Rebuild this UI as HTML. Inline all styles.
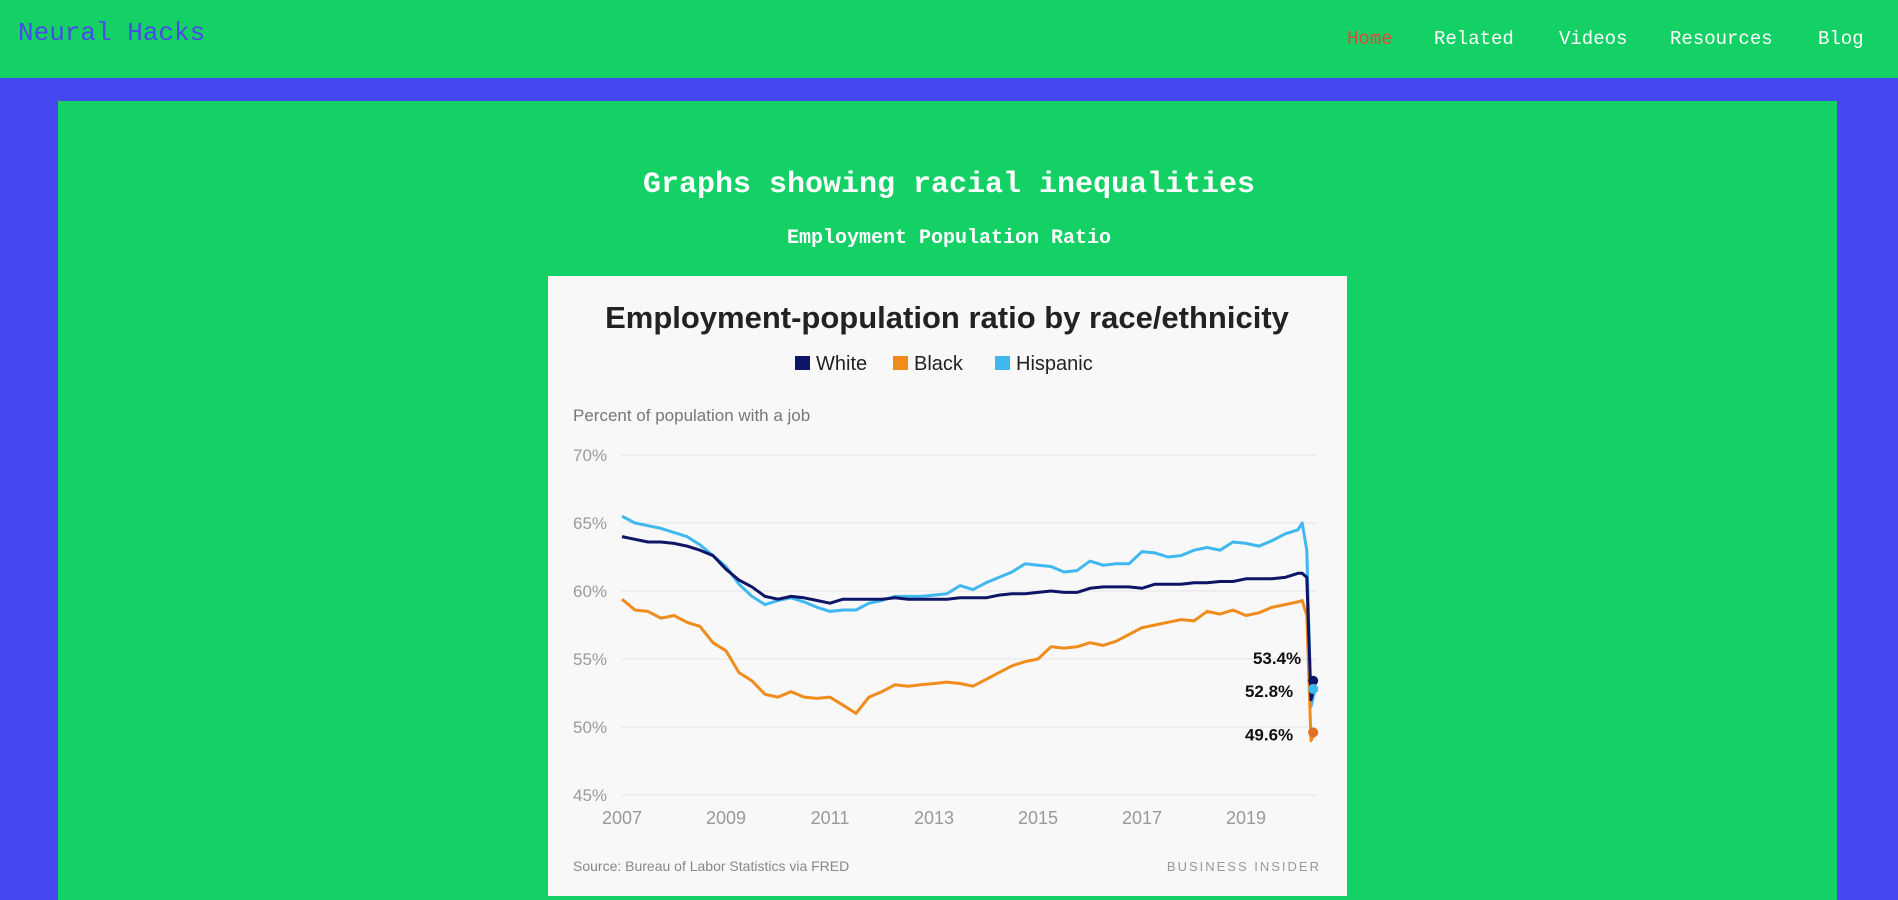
<!DOCTYPE html>
<html><head><meta charset="utf-8"><style>
body{margin:0;width:1898px;height:900px;overflow:hidden;background:#4448ee;font-family:"Liberation Mono",monospace}
#hdr{position:absolute;left:0;top:0;width:1898px;height:78px;background:#14d166}
#logo{position:absolute;left:18px;top:18px;font-size:26px;color:#4a4ae8}
.nav{position:absolute;top:28px;font-size:19px;color:#fff}
#box{position:absolute;left:58px;top:101px;width:1779px;height:799px;background:#14d166}
#t1{position:absolute;left:0;width:1898px;top:168px;text-align:center;font-size:30px;font-weight:bold;color:#fff}
#t2{position:absolute;left:0;width:1898px;top:227px;text-align:center;font-size:20px;font-weight:bold;color:#fff}
svg{position:absolute;left:0;top:0}
</style></head><body>
<div id="hdr"></div>
<div id="logo">Neural Hacks</div>
<div class="nav" style="left:1347px;color:#e8453c">Home</div>
<div class="nav" style="left:1434px">Related</div>
<div class="nav" style="left:1559px">Videos</div>
<div class="nav" style="left:1670px">Resources</div>
<div class="nav" style="left:1818px">Blog</div>
<div id="box"></div>
<div id="t1">Graphs showing racial inequalities</div>
<div id="t2">Employment Population Ratio</div>
<svg id="chart" width="1898" height="900" font-family="Liberation Sans, sans-serif"></svg>
<script>
const dates=[2007,2007.25,2007.5,2007.75,2008,2008.25,2008.5,2008.75,2009,2009.25,2009.5,2009.75,2010,2010.25,2010.5,2010.75,2011,2011.25,2011.5,2011.75,2012,2012.25,2012.5,2012.75,2013,2013.25,2013.5,2013.75,2014,2014.25,2014.5,2014.75,2015,2015.25,2015.5,2015.75,2016,2016.25,2016.5,2016.75,2017,2017.25,2017.5,2017.75,2018,2018.25,2018.5,2018.75,2019,2019.25,2019.5,2019.75,2020,2020.08,2020.17,2020.25,2020.33];
const white=[64.0,63.8,63.6,63.6,63.5,63.3,63.0,62.6,61.6,60.8,60.3,59.6,59.4,59.6,59.5,59.3,59.1,59.4,59.4,59.4,59.4,59.5,59.4,59.4,59.4,59.4,59.5,59.5,59.5,59.7,59.8,59.8,59.9,60.0,59.9,59.9,60.2,60.3,60.3,60.3,60.2,60.5,60.5,60.5,60.6,60.6,60.7,60.7,60.9,60.9,60.9,61.0,61.3,61.3,61.0,52.0,53.4];
const hispanic=[65.5,65.0,64.8,64.6,64.3,64.0,63.4,62.6,61.8,60.5,59.6,59.0,59.3,59.5,59.2,58.8,58.5,58.6,58.6,59.1,59.3,59.6,59.6,59.6,59.7,59.8,60.4,60.1,60.6,61.0,61.4,62.0,61.9,61.8,61.4,61.5,62.2,61.9,62.0,62.0,62.9,62.8,62.5,62.6,63.0,63.2,63.0,63.6,63.5,63.3,63.7,64.2,64.5,65.0,63.0,51.5,52.8];
const black=[59.4,58.6,58.5,58.0,58.2,57.7,57.4,56.2,55.6,54.0,53.4,52.4,52.2,52.6,52.2,52.1,52.2,51.6,51.0,52.2,52.6,53.1,53.0,53.1,53.2,53.3,53.2,53.0,53.5,54.0,54.5,54.8,55.0,55.9,55.8,55.9,56.2,56.0,56.3,56.8,57.3,57.5,57.7,57.9,57.8,58.5,58.3,58.6,58.2,58.4,58.8,59.0,59.2,59.3,58.2,49.0,49.6];
const yTicks=[70,65,60,55,50,45];
const xTicks=[2007,2009,2011,2013,2015,2017,2019];
const endLabels=["53.4%","52.8%","49.6%"];
const NS="http://www.w3.org/2000/svg",svg=document.getElementById('chart');
function x(t){return 622+(t-2007)*52;}
function y(v){return 455+(70-v)*13.6;}
function mk(tag,attrs,txt){const e=document.createElementNS(NS,tag);for(const k in attrs)e.setAttribute(k,attrs[k]);if(txt!==undefined)e.textContent=txt;svg.appendChild(e);return e;}
let e;
e=mk('rect',{x:548,y:276,width:799,height:620,fill:'#f8f8f8'});


e=mk('text',{x:947,y:328,'text-anchor':'middle','font-size':31,'font-weight':'bold',fill:'#222'},'Employment-population ratio by race/ethnicity');


const leg=[['White','#0e1566',795],['Black','#ef8c1c',893],['Hispanic','#3fb8ef',995]];
leg.forEach(l=>{
 e=mk('rect',{x:l[2],y:356,width:15,height:14,fill:l[1]});
 
 
 e=mk('text',{x:l[2]+21,y:370,'font-size':20,fill:'#222'},l[0]);
 
 
});
e=mk('text',{x:573,y:421,'font-size':17,fill:'#777'},'Percent of population with a job');


yTicks.forEach(v=>{
 e=mk('line',{x1:621,x2:1316,y1:y(v),y2:y(v),stroke:'#e4e4e4','stroke-width':1});
 
 
 e=mk('text',{x:573,y:y(v)+6,'font-size':17,fill:'#999'},v+'%');
 
 
});
xTicks.forEach(t=>{
 e=mk('text',{x:x(t),y:824,'font-size':18,fill:'#999','text-anchor':'middle'},String(t));
 
 
});
function line(d,c,n){
 const p=d.map((v,i)=>(i?'L':'M')+x(dates[i]).toFixed(1)+','+y(v).toFixed(1)).join('');
 e=mk('path',{d:p,fill:'none',stroke:c,'stroke-width':3,'stroke-linejoin':'round'});
 
 
}
line(hispanic,'#3fb8ef','hispanic-line');
line(black,'#ef8c1c','black-line');
line(white,'#0e1566','white-line');
const last=dates.length-1;
[[white,'#0e1566',-17,0],[hispanic,'#3fb8ef',8,-22],[black,'#e07020',8,-22]].forEach((s,i)=>{
 const v=s[0][last];
 e=mk('circle',{cx:x(dates[last])-2,cy:y(v),r:5,fill:s[1]});
 
 
 e=mk('text',{x:x(dates[last])+s[3]-(i?0:14),y:y(v)+s[2],'text-anchor':'end','font-size':17,'font-weight':'bold',fill:'#111'},endLabels[i]);
 
 
});
e=mk('text',{x:573,y:871,'font-size':14,fill:'#888'},'Source: Bureau of Labor Statistics via FRED');


e=mk('text',{x:1321,y:871,'font-size':13,fill:'#999','text-anchor':'end','letter-spacing':'2'},'BUSINESS INSIDER');


</script>
</body></html>
